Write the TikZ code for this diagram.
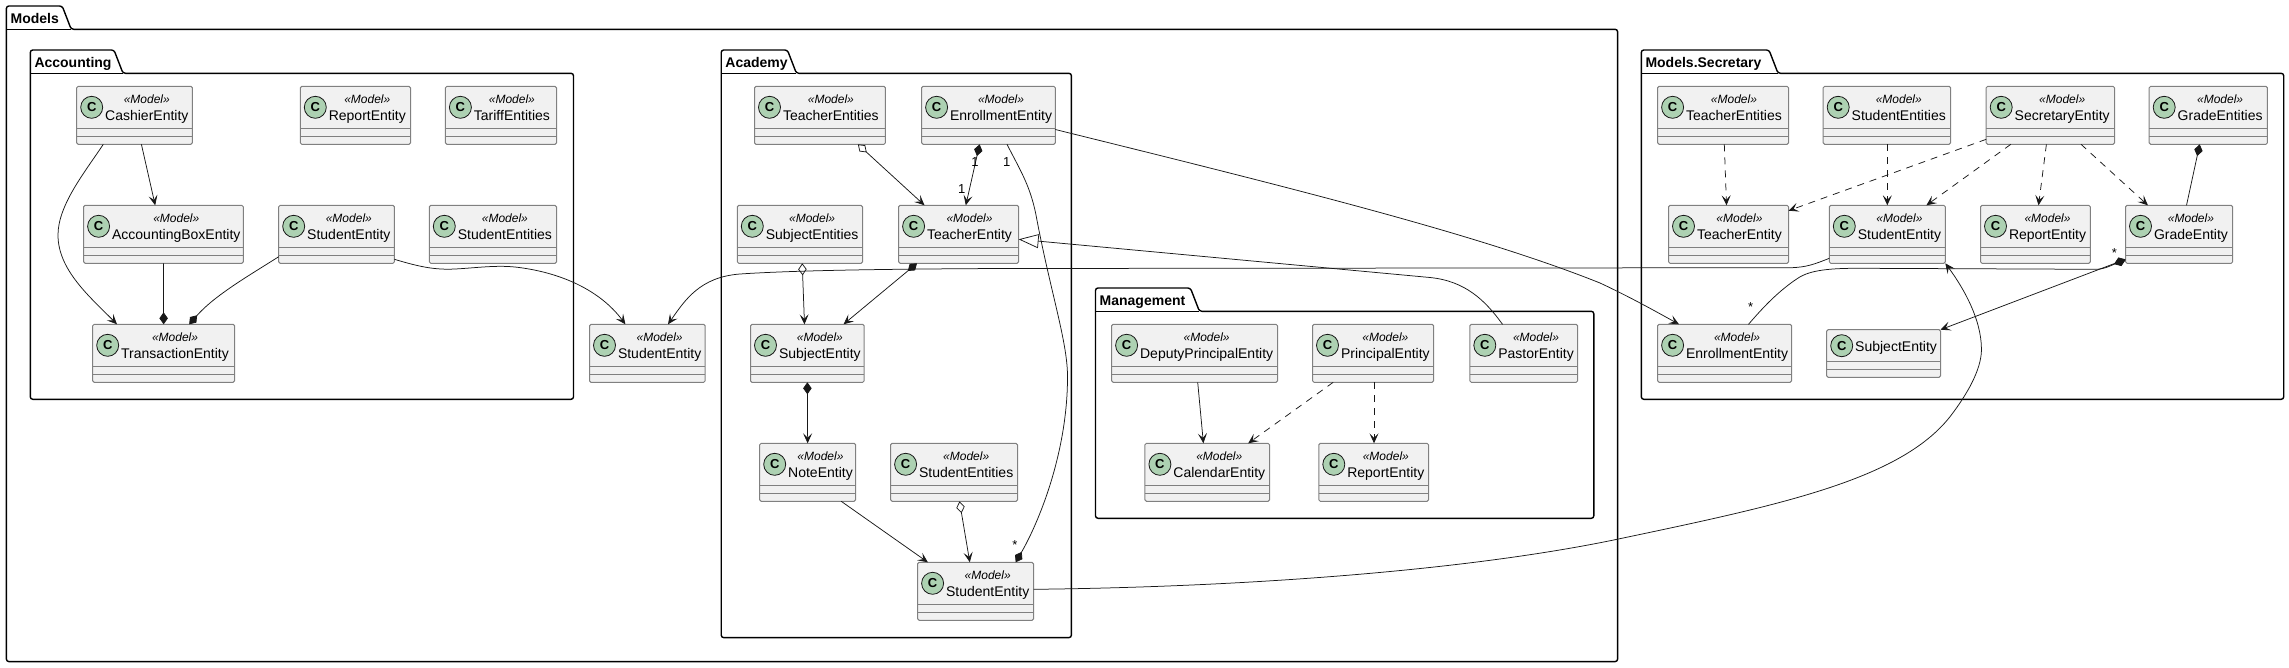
\documentclass[tikz,border=0pt]{standalone}
\usepackage{fontspec}
\setmainfont{Liberation Sans}
\usetikzlibrary{arrows.meta}
\definecolor{boxfill}{HTML}{F1F1F1}
\definecolor{spotfill}{HTML}{ADD1B2}
\definecolor{inkline}{HTML}{181818}
\newcommand{\pkgframe}[8]{
    \draw[pkgline] (#3,#6)--(#3,#4)--({#5-9},#4)--(#5,#6)--(#7,#6)--(#7,#8)--(#3,#8)--cycle;
    \draw[pkgline,sharp corners] (#3,#6)--(#5,#6);
    \node[pkgtitle] (#1) at ([xshift=4pt,yshift=6.3pt]#3,#6) {#2};
}
\newcommand{\entity}[5]{
    \node[classbox,minimum width=#4pt,minimum height=58pt] (#1) at (#2,#3) {};
    \draw[classline] ([yshift=-42pt]#1.north west)--([yshift=-42pt]#1.north east)
    ([yshift=-50pt]#1.north west)--([yshift=-50pt]#1.north east);
    \node[spot] (#1spot) at ([xshift=15pt,yshift=-21pt]#1.north west) {C};
    \node[classname] (#1name) at ([xshift=28.3pt,yshift=-34.4pt]#1.north west) {#5};
    \node[stereo] (#1stereo) at ([yshift=17.7pt]#1name.base) {«Model»};
}
\newcommand{\plainentity}[5]{
    \node[classbox,minimum width=#4pt,minimum height=47.6pt] (#1) at (#2,#3) {};
    \draw[classline] ([yshift=-32pt]#1.north west)--([yshift=-32pt]#1.north east)
    ([yshift=-40pt]#1.north west)--([yshift=-40pt]#1.north east);
    \node[spot] (#1spot) at ([xshift=15pt,yshift=-16pt]#1.north west) {C};
    \node[classname] (#1name) at ([xshift=28.3pt,yshift=-21.5pt]#1.north west) {#5};
}
\begin{document}
\begin{tikzpicture}[x=1pt,y=-1pt,
    >={Stealth[length=10pt,width=9pt,inset=4.5pt]},
    dia/.tip={Diamond[length=12pt,width=8.5pt]},
    odia/.tip={Diamond[open,length=12pt,width=8.5pt]},
    tri/.tip={Triangle[open,length=20pt,width=14pt]},
    pkgline/.style={draw=black,line width=1.4pt,rounded corners=2.5pt},
    pkgtitle/.style={font=\fontsize{14}{16}\selectfont\bfseries,anchor=base west,inner sep=0pt},
    classbox/.style={draw=black!50,line width=1pt,fill=boxfill,rounded corners=1.5pt,anchor=north west,outer sep=0pt,inner sep=0pt},
    classline/.style={draw=black!50,line width=1pt},
    spot/.style={circle,draw=inkline,line width=.8pt,fill=spotfill,minimum size=22pt,inner sep=0pt,font=\fontsize{13}{15}\selectfont\bfseries},
    classname/.style={font=\fontsize{14}{16}\selectfont,anchor=base west,inner sep=0pt},
    stereo/.style={font=\fontsize{12}{14}\selectfont\itshape,anchor=base,inner sep=0pt},
    link/.style={draw=inkline,line width=.75pt},
    dep/.style={link,dash pattern=on 7pt off 6pt},
    mult/.style={font=\fontsize{13}{15}\selectfont,inner sep=0pt}]
    \useasboundingbox (0,0) rectangle (2289,667);
    \pkgframe{pkgModels}{Models}{6.4}{6}{71.2}{29.3}{1617.6}{661.6}
    \pkgframe{pkgAccounting}{Accounting}{30.3}{50}{123}{73.3}{573.5}{399.3}
    \pkgframe{pkgAcademy}{Academy}{721.2}{50}{796.4}{73.3}{1071.4}{637.6}
    \pkgframe{pkgManagement}{Management}{1095.5}{288}{1199.4}{311.3}{1593.8}{518.3}
    \pkgframe{pkgSecretary}{Models.Secretary}{1641.3}{50}{1778}{73.3}{2283.7}{399.3}

    \entity{acCashier}{76.7}{86.3}{115.7}{CashierEntity}
    \entity{acReport}{300.3}{86.3}{110.2}{ReportEntity}
    \entity{acTariff}{445.4}{86.3}{111.1}{TariffEntities}
    \entity{acBox}{83.6}{205.3}{159.7}{AccountingBoxEntity}
    \entity{acStudent}{278.7}{205.3}{115.7}{StudentEntity}
    \entity{acStudents}{429.3}{205.3}{127.2}{StudentEntities}
    \entity{acTrans}{92.7}{324.3}{141.9}{TransactionEntity}
    \entity{freeStudent}{589.5}{324.3}{115.7}{StudentEntity}

    \entity{adTeachers}{754.5}{86.3}{130.9}{TeacherEntities}
    \entity{adEnroll}{921.6}{86.3}{133.7}{EnrollmentEntity}
    \entity{adSubjects}{737.3}{205.3}{125.2}{SubjectEntities}
    \entity{adTeacher}{898.6}{205.3}{120}{TeacherEntity}
    \entity{adSubject}{750.5}{324.3}{113.7}{SubjectEntity}
    \entity{adNote}{759.7}{443.3}{95.9}{NoteEntity}
    \entity{adStudents}{890.6}{443.3}{126.9}{StudentEntities}
    \entity{adStudent}{917.6}{562.3}{115.9}{StudentEntity}

    \entity{mgDeputy}{1111.6}{324.3}{165.9}{DeputyPrincipalEntity}
    \entity{mgPrincipal}{1312.5}{324.3}{121.1}{PrincipalEntity}
    \entity{mgPastor}{1469.8}{324.3}{107.9}{PastorEntity}
    \entity{mgCalendar}{1144.9}{443.3}{124.6}{CalendarEntity}
    \entity{mgReport}{1318.8}{443.3}{109.7}{ReportEntity}

    \entity{seTeachers}{1657.6}{86.3}{130.9}{TeacherEntities}
    \entity{seStudents}{1823.2}{86.3}{127.4}{StudentEntities}
    \entity{seSecretary}{1986.2}{86.3}{128.3}{SecretaryEntity}
    \entity{seGrades}{2149.2}{86.3}{118.2}{GradeEntities}
    \entity{seTeacher}{1668.5}{205.3}{120}{TeacherEntity}
    \entity{seStudent}{1829.3}{205.3}{116}{StudentEntity}
    \entity{seReport}{1980.5}{205.3}{109.8}{ReportEntity}
    \entity{seGrade}{2125.5}{205.3}{107.2}{GradeEntity}
    \entity{seEnroll}{1657.6}{324.3}{134}{EnrollmentEntity}
    \plainentity{seSubject}{1826.7}{329.7}{113.8}{SubjectEntity}

    \draw[link,->] ([xshift=26.6pt]acCashier.south west) .. controls (85,172) and (58,205) .. (58,235) .. controls (58,270) and (90,297) .. ([xshift=24.3pt]acTrans.north west);
    \draw[link,->] ([xshift=64.7pt]acCashier.south west)--([xshift=71.6pt]acBox.north west);
    \draw[link,-dia] (acBox.south)--(acTrans.north);
    \draw[link,-dia] ([yshift=6.6pt]acStudent.south west) .. controls (250,275) and (215,295) .. ([xshift=96.5pt]acTrans.north west);
    \draw[link,->] ([yshift=4pt]acStudent.south east) .. controls (420,267) and (435,270) .. (455,269) .. controls (475,268) and (495,265) .. (515,267) .. controls (560,272) and (600,290) .. ([xshift=35.9pt]freeStudent.north west);
    \draw[link,->] ([yshift=5pt]seStudent.south west) .. controls (1815,264) and (1806,267.5) .. (1790,267.7)--(1000,268.5) .. controls (900,269) and (800,270) .. (740,274) .. controls (700,277) and (685,300) .. ([xshift=78.5pt]freeStudent.north west);

    \draw[link,odia->] ([xshift=103.4pt]adTeachers.south west)--([xshift=25.9pt]adTeacher.north west);
    \draw[link,dia->] ([xshift=58pt]adEnroll.south west)--([xshift=67.2pt]adTeacher.north west);
    \draw[link,-dia] ([xshift=85.4pt]adEnroll.south west) .. controls (1020,170) and (1030,185) .. (1036,215) .. controls (1050,290) and (1067,340) .. (1067.5,375) .. controls (1068,450) and (1040,520) .. ([xshift=98.1pt]adStudent.north west);
    \draw[link,->] ([yshift=-43.2pt]adEnroll.north east) .. controls (1300,190) and (1480,235) .. (1600,283) .. controls (1630,297) and (1655,311) .. ([xshift=21.4pt]seEnroll.north west);
    \draw[link,-tri] ([xshift=32.7pt]mgPastor.north west) .. controls (1485,300) and (1465,281) .. (1430,277.5)--([yshift=-34pt]adTeacher.north east);
    \draw[link,odia->] ([xshift=64.9pt]adSubjects.south west)--([xshift=54pt]adSubject.north west);
    \draw[link,dia->] ([xshift=18.4pt]adTeacher.south west)--([xshift=93pt]adSubject.north west);
    \draw[link,dia->] (adSubject.south)--(adNote.north);
    \draw[link,->] ([xshift=81.5pt]adNote.south west)--([xshift=10.3pt]adStudent.north west);
    \draw[link,odia->] ([xshift=68.9pt]adStudents.south west)--([xshift=52.2pt]adStudent.north west);
    \draw[link,->] ([yshift=-27pt]adStudent.north east) .. controls (1250,587) and (1470,570) .. (1617,539.3) .. controls (1780,505) and (1900,480) .. (1950,416.7) .. controls (1972,388) and (1982,365) .. (1981.4,348) .. controls (1981,320) and (1965,290) .. (seStudent.south east);

    \draw[link,->] ([xshift=86.1pt]mgDeputy.south west)--([xshift=58.5pt]mgCalendar.north west);
    \draw[dep,->] ([xshift=20.7pt]mgPrincipal.south west)--([xshift=103.3pt]mgCalendar.north west);
    \draw[dep,->] ([xshift=61.5pt]mgPrincipal.south west)--([xshift=55.2pt]mgReport.north west);

    \draw[dep,->] ([xshift=66.7pt]seTeachers.south west)--([xshift=58pt]seTeacher.north west);
    \draw[dep,->] ([xshift=64.1pt]seStudents.south west)--([xshift=58pt]seStudent.north west);
    \draw[dep,->] ([yshift=5pt]seSecretary.south west)--([yshift=-5.4pt]seTeacher.north east);
    \draw[dep,->] ([xshift=24.6pt]seSecretary.south west)--([xshift=97.1pt]seStudent.north west);
    \draw[dep,->] ([xshift=60.2pt]seSecretary.south west)--([xshift=58pt]seReport.north west);
    \draw[dep,->] ([xshift=94.8pt]seSecretary.south west)--([xshift=22.4pt]seGrade.north west);
    \draw[link,dia-] ([xshift=50.5pt]seGrades.south west)--([xshift=61pt]seGrade.north west);
    \draw[link,dia->] ([yshift=4pt]seGrade.south west)--(seSubject.north east);
    \draw[link,dia-] ([yshift=3.3pt]seGrade.south west) .. controls (2112,265) and (2105,269) .. (2096.5,269.3)--(1863.6,268.3) .. controls (1830,268) and (1810,270) .. (1797.7,278.3) .. controls (1780,290) and (1765,305) .. ([xshift=90.9pt]seEnroll.north west);

    \node[mult] (enrollOneA) at (975,161.7) {1};
    \node[mult] (teacherOne) at (961.7,189.3) {1};
    \node[mult] (enrollOneB) at (1006.7,161.7) {1};
    \node[mult] (studentMany) at (1015,545) {*};
    \node[mult] (gradeMany) at (2114.5,253) {*};
    \node[mult] (seEnrollMany) at (1750.7,307) {*};
\end{tikzpicture}
\end{document}
